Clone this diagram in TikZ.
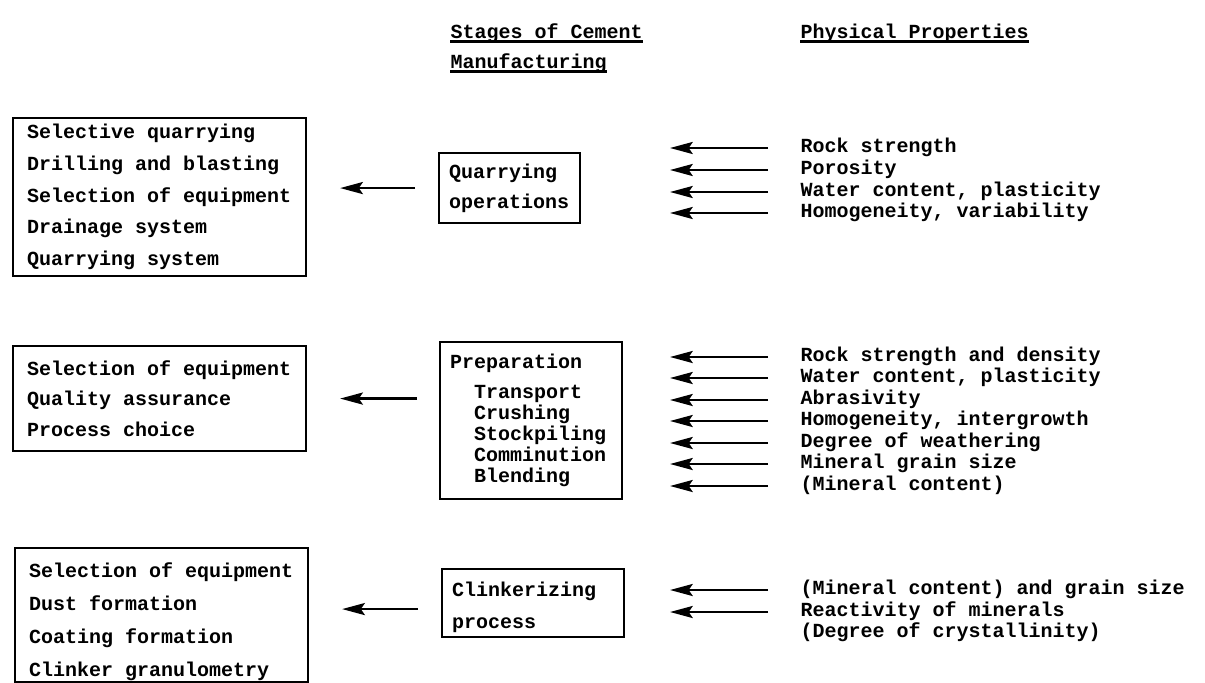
\documentclass[tikz,border=0pt]{standalone}
\usepackage{fontspec}
\newfontfamily\courierbf{Liberation Mono}
\usetikzlibrary{arrows.meta,calc}

\tikzset{every picture/.style={line width=0.75pt}}
\tikzset{
	txt/.style={font=\courierbf\bfseries\fontsize{15}{#1}\selectfont},
	txt/.default=16,
	listbox/.style={draw, line width=1.6pt, anchor=north west, align=flush left, inner xsep=10.5pt, inner ysep=0pt, text width=198.75pt},
	stagebox/.style={draw, line width=1.6pt, anchor=north west, align=flush left, inner xsep=7.5pt, inner ysep=0pt},
	prop/.style={txt, anchor=west, inner sep=0pt, text height=10pt, text depth=3pt},
	head/.style={txt, anchor=west, inner sep=0pt, text height=10pt, text depth=1.8pt},
	arr/.style={line width=2pt, -{Stealth[length=17pt,width=9pt,inset=3pt]}}
}

\begin{document}
\begin{tikzpicture}[x=0.75pt,y=0.75pt,yscale=-1,xscale=1]
	\useasboundingbox (0,0) rectangle (1205,682);

	% Text Node
	\node[head] (hstage) at (450,33) {Stages of Cement};
	% Text Node
	\node[head] (hmanuf) at (450,63) {Manufacturing};
	% Text Node
	\node[head] (hphys) at (800,33) {Physical Properties};
	%Straight Lines
	\draw[line width=1.8pt] (hstage.south west) -- (hstage.south east);
	\draw[line width=1.8pt] (hmanuf.south west) -- (hmanuf.south east);
	\draw[line width=1.8pt] (hphys.south west) -- (hphys.south east);

	%Shape: Rectangle
	\node[listbox, txt=23.8, minimum height=118.5pt] (quarrylist) at (12,117) {Selective quarrying\\Drilling and blasting\\Selection of equipment\\Drainage system\\Quarrying system};
	%Shape: Rectangle
	\node[stagebox, txt=22.5, text width=90.75pt, minimum height=52.5pt] (quarry) at (438,152) {Quarrying\\operations};
	%Straight Lines
	\draw[arr] ($(quarry.west)+(-17.25pt,0)$) -- ($(quarrylist.east |- quarry.west)+(24.75pt,0)$);

	% Text Node
	\node[prop] (q1) at (800,148) {Rock strength};
	\node[prop] (q2) at (800,170) {Porosity};
	\node[prop] (q3) at (800,192) {Water content, plasticity};
	\node[prop] (q4) at (800,213) {Homogeneity, variability};
	%Straight Lines
	\draw[arr] ([xshift=-24pt]q1.west) -- ([xshift=-97.5pt]q1.west);
	\draw[arr] ([xshift=-24pt]q2.west) -- ([xshift=-97.5pt]q2.west);
	\draw[arr] ([xshift=-24pt]q3.west) -- ([xshift=-97.5pt]q3.west);
	\draw[arr] ([xshift=-24pt]q4.west) -- ([xshift=-97.5pt]q4.west);

	%Shape: Rectangle
	\node[listbox, txt=22.9, minimum height=78.75pt] (preplist) at (12,345) {Selection of equipment\\Quality assurance\\Process choice};
	%Shape: Rectangle
	\node[stagebox, txt=15.75, text width=121.5pt, minimum height=117.75pt] (prep) at (439,341) {Preparation\\[6.75pt]~~Transport\\~~Crushing\\~~Stockpiling\\~~Comminution\\~~Blending};
	%Straight Lines
	\draw[arr] ($(prep.west |- preplist.east)+(-16.5pt,0)$) -- ($(preplist.east)+(24.75pt,0)$);

	% Text Node
	\node[prop] (p1) at (800,357) {Rock strength and density};
	\node[prop] (p2) at (800,378) {Water content, plasticity};
	\node[prop] (p3) at (800,400) {Abrasivity};
	\node[prop] (p4) at (800,421) {Homogeneity, intergrowth};
	\node[prop] (p5) at (800,443) {Degree of weathering};
	\node[prop] (p6) at (800,464) {Mineral grain size};
	\node[prop] (p7) at (800,486) {(Mineral content)};
	%Straight Lines
	\draw[arr] ([xshift=-24pt]p1.west) -- ([xshift=-97.5pt]p1.west);
	\draw[arr] ([xshift=-24pt]p2.west) -- ([xshift=-97.5pt]p2.west);
	\draw[arr] ([xshift=-24pt]p3.west) -- ([xshift=-97.5pt]p3.west);
	\draw[arr] ([xshift=-24pt]p4.west) -- ([xshift=-97.5pt]p4.west);
	\draw[arr] ([xshift=-24pt]p5.west) -- ([xshift=-97.5pt]p5.west);
	\draw[arr] ([xshift=-24pt]p6.west) -- ([xshift=-97.5pt]p6.west);
	\draw[arr] ([xshift=-24pt]p7.west) -- ([xshift=-97.5pt]p7.west);

	%Shape: Rectangle
	\node[listbox, txt=24.75, minimum height=100.5pt] (clinklist) at (14,547) {\rule{0pt}{21.5pt}Selection of equipment\\Dust formation\\Coating formation\\Clinker granulometry};
	%Shape: Rectangle
	\node[stagebox, txt=24, text width=121.5pt, minimum height=51pt] (clink) at (441,568) {\rule{0pt}{17.5pt}Clinkerizing\\process};
	\coordinate (clinkmid) at ($(clink.west)!.5!(clink.west |- clinklist.east)$);
	%Straight Lines
	\draw[arr] ($(clinkmid)+(-17.25pt,0)$) -- ($(clinklist.east |- clinkmid)+(24.75pt,0)$);

	% Text Node
	\node[prop] (c1) at (800,590) {(Mineral content) and grain size};
	\node[prop] (c2) at (800,612) {Reactivity of minerals};
	\node[prop] (c3) at (800,633) {(Degree of crystallinity)};
	%Straight Lines
	\draw[arr] ([xshift=-24pt]c1.west) -- ([xshift=-97.5pt]c1.west);
	\draw[arr] ([xshift=-24pt]c2.west) -- ([xshift=-97.5pt]c2.west);

\end{tikzpicture}
\end{document}
